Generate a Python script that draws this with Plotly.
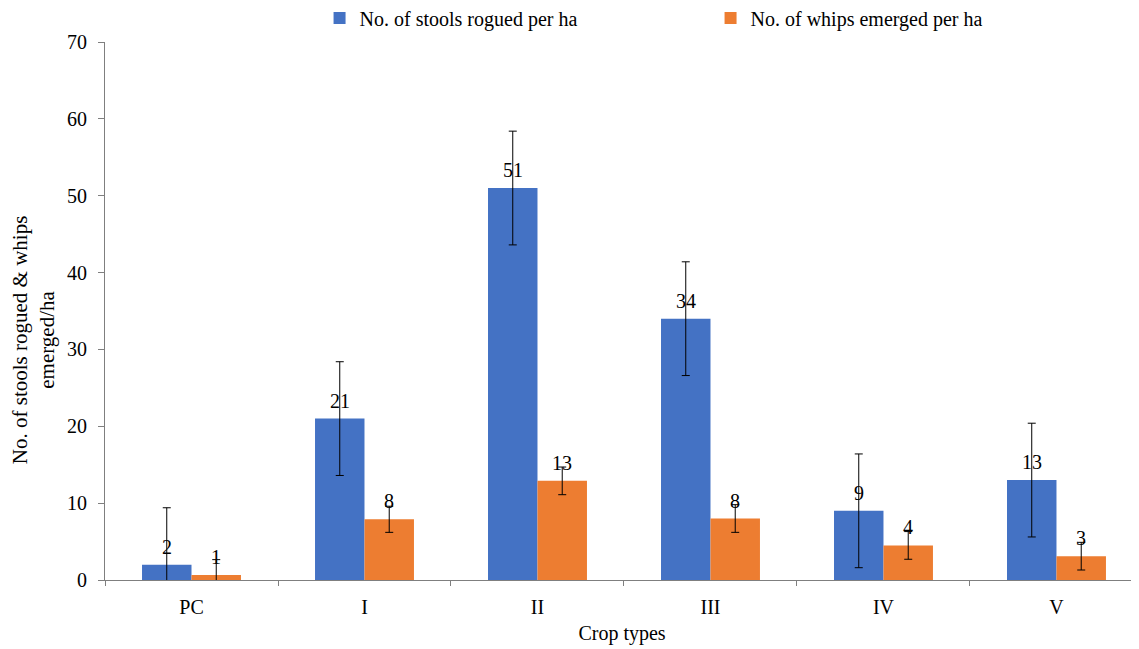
import plotly.graph_objects as go

categories = ["PC", "I", "II", "III", "IV", "V"]
stools = [2, 21, 51, 34, 9, 13]
stools_err = [7.4, 7.4, 7.4, 7.4, 7.4, 7.4]
stools_labels = ["2", "21", "51", "34", "9", "13"]
whips = [0.65, 7.9, 12.9, 8, 4.5, 3.1]
whips_err = [2.0, 1.7, 1.8, 1.8, 1.8, 1.8]
whips_labels = ["1", "8", "13", "8", "4", "3"]

FONT = "Liberation Serif, Times New Roman, serif"

fig = go.Figure()
fig.add_trace(go.Bar(
    x=categories, y=stools, name="No. of stools rogued per ha",
    marker=dict(color="#4472C4", line=dict(width=0)),
    error_y=dict(type="data", array=stools_err, color="black", thickness=1, width=4),
))
fig.add_trace(go.Bar(
    x=categories, y=whips, name="No. of whips emerged per ha",
    marker=dict(color="#ED7D31", line=dict(width=0)),
    error_y=dict(type="data", array=whips_err, color="black", thickness=1, width=4),
))

# data labels above bars
for vals, labels, shift in ((stools, stools_labels, -24.75), (whips, whips_labels, 24.75)):
    for c, v, t in zip(categories, vals, labels):
        fig.add_annotation(x=c, y=v, text=t, showarrow=False, xshift=shift,
                           yanchor="middle", yshift=18,
                           font=dict(family=FONT, size=20, color="black"))

# y-axis title
fig.add_annotation(xref="paper", yref="paper", x=-0.069, y=0.447,
                   xanchor="center", yanchor="middle", textangle=-90,
                   text="No. of stools rogued & whips<br>emerged/ha", showarrow=False,
                   font=dict(family=FONT, size=21, color="black"))

fig.update_layout(
    width=1131, height=641,
    margin=dict(l=97, r=0, t=34, b=69, autoexpand=False),
    plot_bgcolor="white", paper_bgcolor="white",
    barmode="group", bargap=0.428, bargroupgap=0,
    font=dict(family=FONT, size=20, color="black"),
    legend=dict(orientation="h", x=0.2075, xanchor="left", y=1.0446, yanchor="middle",
                font=dict(family=FONT, size=20),
                entrywidth=346, traceorder="normal"),
    xaxis=dict(
        range=[-0.5, 5.477], showline=True, linecolor="#7f7f7f", linewidth=1,
        ticks="outside", tickson="boundaries", ticklen=5, tickcolor="#7f7f7f",
        ticklabelstandoff=9,
        title=dict(text="Crop types", font=dict(family=FONT, size=20), standoff=8),
        tickfont=dict(family=FONT, size=20), showgrid=False, automargin=False,
    ),
    yaxis=dict(
        range=[0, 70], dtick=10, showline=True, linecolor="#7f7f7f", linewidth=1,
        ticks="outside", ticklen=6, tickcolor="#7f7f7f", showgrid=False, zeroline=False,
        ticklabelstandoff=7,
        tickfont=dict(family=FONT, size=20), automargin=False,
    ),
)

fig.write_html("out.html")
